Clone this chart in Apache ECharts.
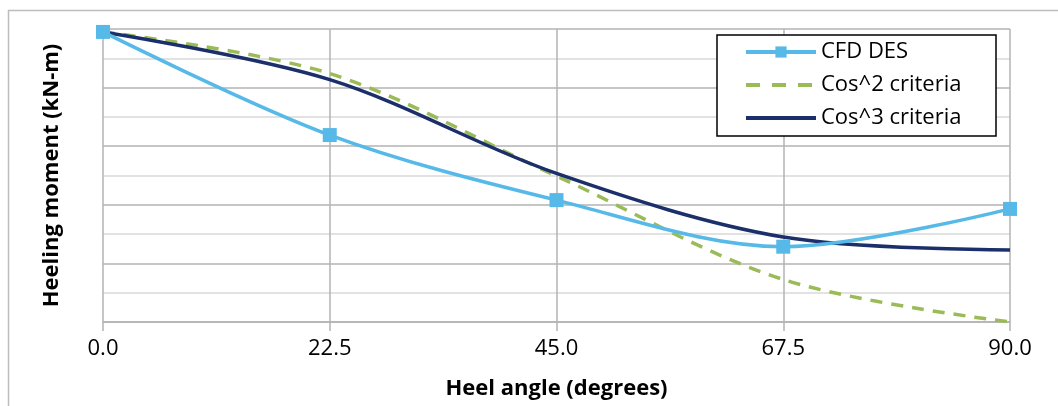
<!DOCTYPE html>
<html>
<head>
<meta charset="utf-8">
<script src="https://cdn.jsdelivr.net/npm/echarts@6/dist/echarts.min.js"></script>
<style>
html,body{margin:0;padding:0;background:#fff;}
#chart{width:1058px;height:406px;}
</style>
</head>
<body>
<div id="chart"></div>
<script>
// Data (y in arbitrary gridline units, 0..10)
const heelAngles = ['0.0', '22.5', '45.0', '67.5', '90.0'];
const cfdDes = [9.90, 6.38, 4.16, 2.57, 3.86];
const cos2Criteria = [9.90, 8.48, 4.98, 1.45, 0.0];
const cos3Criteria = [9.90, 8.27, 5.07, 2.90, 2.46];

const seriesNames = ['CFD DES', 'Cos^2 criteria', 'Cos^3 criteria'];
const FONT = '"Open Sans", sans-serif';

const chart = echarts.init(document.getElementById('chart'), null, {renderer: 'canvas'});
chart.setOption({
  animation: false,
  backgroundColor: '#ffffff',
  textStyle: {fontFamily: FONT, color: '#000'},
  graphic: [
    {
      type: 'rect', z: 0, silent: true,
      shape: {x: 8.5, y: 10.5, width: 1100, height: 500},
      style: {fill: null, stroke: '#bdbdbd', lineWidth: 1.5}
    },
    {
      type: 'rect', z: 3, silent: true,
      shape: {x: 717, y: 35, width: 279, height: 101},
      style: {fill: '#ffffff', stroke: '#000000', lineWidth: 1.5}
    }
  ],
  grid: {left: 103, right: 48, top: 29, bottom: 84, containLabel: false},
  legend: {
    orient: 'vertical',
    left: 744, top: 40,
    padding: 0,
    itemWidth: 70, itemHeight: 14, itemGap: 9,
    lineStyle: {width: 4},
    textStyle: {fontFamily: FONT, fontSize: 22, lineHeight: 24, color: '#000'},
    data: [
      {name: seriesNames[0]},
      {name: seriesNames[1], itemStyle: {opacity: 0}, lineStyle: {type: [14, 12]}},
      {name: seriesNames[2], itemStyle: {opacity: 0}}
    ],
    z: 5
  },
  xAxis: {
    type: 'category',
    data: heelAngles,
    boundaryGap: false,
    name: 'Heel angle (degrees)',
    nameLocation: 'middle',
    nameGap: 56,
    nameTextStyle: {fontFamily: FONT, fontSize: 22, fontWeight: 'bold', color: '#000'},
    axisLine: {show: true, lineStyle: {color: '#b3b3b3', width: 1.5}},
    axisTick: {show: true, length: 9, alignWithLabel: true, lineStyle: {color: '#b3b3b3', width: 1.5}},
    axisLabel: {fontFamily: FONT, fontSize: 22, color: '#000', margin: 16},
    splitLine: {show: true, lineStyle: {color: '#b3b3b3', width: 1.5}}
  },
  yAxis: {
    type: 'value',
    min: 0, max: 10, interval: 1,
    name: 'Heeling moment (kN-m)',
    nameLocation: 'middle',
    nameGap: 40,
    nameTextStyle: {fontFamily: FONT, fontSize: 22, fontWeight: 'bold', color: '#000'},
    axisLine: {show: false},
    axisTick: {show: false},
    axisLabel: {show: false},
    splitLine: {show: true, lineStyle: {color: ['#b3b3b3', '#d9d9d9'], width: 1.5}}
  },
  series: [
    {
      name: seriesNames[0], type: 'line', data: cfdDes,
      smooth: 0.33,
      symbol: 'rect', symbolSize: 14,
      itemStyle: {color: '#56b9e8'},
      lineStyle: {color: '#56b9e8', width: 3.5},
      z: 4
    },
    {
      name: seriesNames[1], type: 'line', data: cos2Criteria,
      smooth: 0.33,
      symbol: 'circle', showSymbol: false,
      itemStyle: {color: '#9bbb59'},
      lineStyle: {color: '#9bbb59', width: 3.5, type: [12, 9]},
      z: 2
    },
    {
      name: seriesNames[2], type: 'line', data: cos3Criteria,
      smooth: 0.33,
      symbol: 'circle', showSymbol: false,
      itemStyle: {color: '#1b2f6a'},
      lineStyle: {color: '#1b2f6a', width: 3.5},
      z: 3
    }
  ]
});
</script>
</body>
</html>
